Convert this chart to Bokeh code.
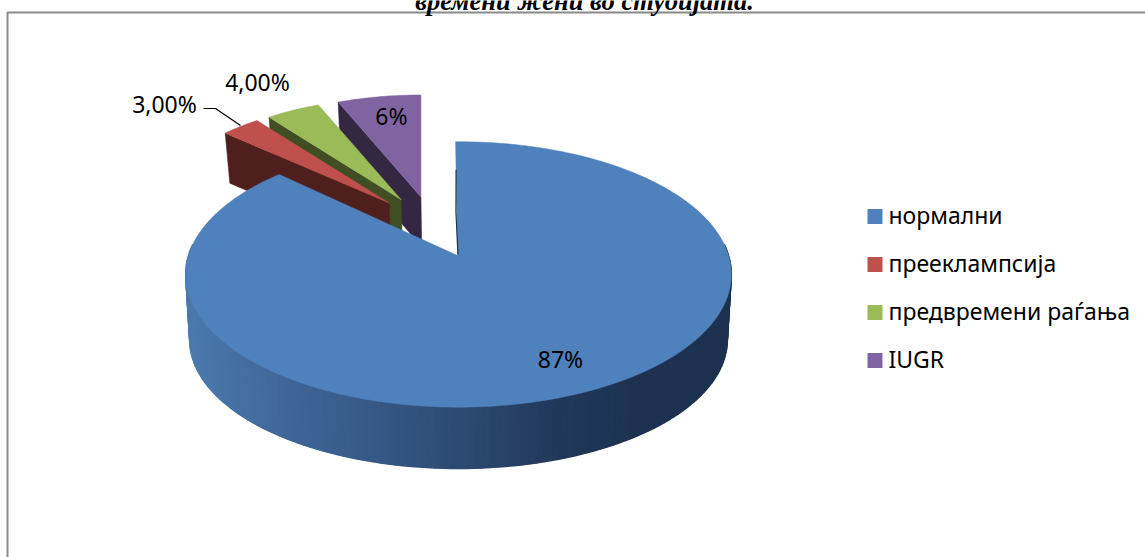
import numpy as np
from bokeh.plotting import figure
from bokeh.embed import file_html
from bokeh.resources import INLINE
from bokeh.core.properties import value

# ---- data ----
categories = ["нормални", "прееклампсија", "предвремени раѓања", "IUGR"]
shares = [87, 3, 4, 6]
labels = ["87%", "3,00%", "4,00%", "6%"]
top_colors = ["#4f81bd", "#c0504d", "#9bbb59", "#8064a2"]
wall_colors = ["#1d3350", "#4f1f1e", "#3f4f23", "#332741"]
title_tail = "времени жени во студијата."

W, H = 1145, 557
p = figure(width=W, height=H, x_range=(0, W), y_range=(H, 0), output_backend="svg",
           toolbar_location=None, min_border=0, outline_line_color=None,
           background_fill_color="white", border_fill_color="white",
           margin=0)
p.axis.visible = False
p.grid.visible = False

FONT = "Noto Sans"

# frame
p.line([7, 7, W], [H, 12, 12], line_color="#8a8a8a", line_width=2)

# angles from the values (clockwise from the top)
edges = np.radians(np.concatenate([[0], np.cumsum(shares)]) * 3.6)

# geometry of the perspective drawing
CX, CY = 458.0, 255.0
B, A, PERSP = 270.0, 130.0, 1 / 7
BOT_CX, BOT_CY, B2, A2 = 458.0, 321.0, 266.0, 126.0
SMALL_RX, SMALL_RY, DEPTH = 225.0, 102.0, 50.0


def big_rim(t, cx=CX, cy=CY, b=B, a=A):
    d = 1 + PERSP * np.cos(t)
    return cx + b * np.sin(t) / d, cy - a * np.cos(t) / d


# small exploded slices, back to front
for i in [3, 2, 1]:
    t0, t1 = edges[i], edges[i + 1]
    mid = (t0 + t1) / 2
    ax = CX - 25 + 67 * np.sin(mid)
    ay = CY - 33 - 26 * np.cos(mid)
    ts = np.linspace(t0, t1, 24)
    rx = ax + SMALL_RX * np.sin(ts)
    ry = ay - SMALL_RY * np.cos(ts)
    # cut wall along the leading radius
    wx = [rx[0], ax, ax - (ax - CX) * 0.02, rx[0] - (rx[0] - CX) * 0.02]
    wy = [ry[0], ay, ay + DEPTH, ry[0] + DEPTH]
    p.patch(wx, wy, fill_color=wall_colors[i], line_color=wall_colors[i], line_width=0.5)
    p.patch(np.r_[ax, rx], np.r_[ay, ry], fill_color=top_colors[i],
            line_color=top_colors[i], line_width=0.5)

# big slice: outer wall as shaded strips
wall_t = np.linspace(np.radians(85), np.radians(275), 131)
stops_x = [185, 300, 460, 560, 640, 731]
stops_r = [76, 62, 45, 33, 29, 29]
stops_g = [122, 100, 75, 56, 50, 50]
stops_b = [175, 150, 115, 90, 80, 80]
tx, ty = big_rim(wall_t)
bx, by = big_rim(wall_t, BOT_CX, BOT_CY, B2, A2)
for k in range(len(wall_t) - 1):
    xm = (tx[k] + tx[k + 1]) / 2
    col = "#%02x%02x%02x" % (int(np.interp(xm, stops_x, stops_r)),
                             int(np.interp(xm, stops_x, stops_g)),
                             int(np.interp(xm, stops_x, stops_b)))
    p.patch([tx[k], tx[k + 1], bx[k + 1], bx[k]], [ty[k], ty[k + 1], by[k + 1], by[k]],
            fill_color=col, line_color=col, line_width=1.5)

# big slice: top face
ROT = np.radians(-0.7)
ts = np.linspace(edges[0] + ROT, edges[1], 240)
ex, ey = big_rim(ts)
p.patch(np.r_[CX - 1, ex], np.r_[CY, ey], fill_color=top_colors[0],
        line_color=top_colors[0], line_width=0.5)
# thin visible piece of the cut wall
sx, sy = big_rim(np.array([ROT]))
p.line([sx[0] + 0.5, sx[0] + 0.3, CX - 0.5], [sy[0] + 28, sy[0] + 70, CY - 1],
       line_color=wall_colors[0], line_width=1.2)

# title, cut by the page top
p.text([584], [0], text=[title_tail], text_align="center", text_baseline="alphabetic",
       text_font=value("Liberation Serif"), text_font_style="bold italic",
       text_font_size="26.5px", text_color="black")

# data labels
lab_x = [560, 164, 257, 391]
lab_y = [358, 103, 81, 115]
p.text(lab_x, lab_y, text=labels, text_align="center", text_baseline="middle",
       text_font=value(FONT), text_font_size="23px", text_color="black")
p.line([203, 215, 240], [108, 108, 125], line_color="black", line_width=1.2)

# legend
rows = [216, 264, 312, 360]
p.quad(left=[867] * 4, right=[882] * 4, top=[r - 7.5 for r in rows], bottom=[r + 7.5 for r in rows],
       fill_color=top_colors, line_color=None)
p.text([888] * 4, [r - 2 for r in rows], text=categories, text_align="left", text_baseline="middle",
       text_font=value(FONT), text_font_size="23px", text_color="black")

open("out.html", "w").write(file_html(p, INLINE))
